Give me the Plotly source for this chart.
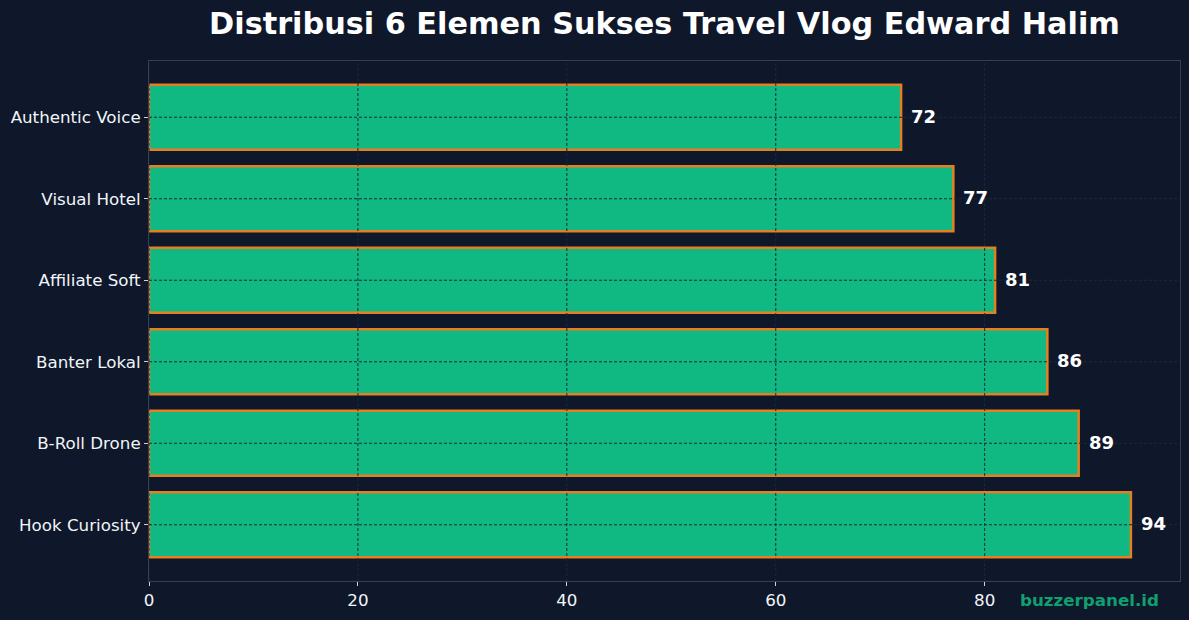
import plotly.graph_objects as go

categories = ["Hook Curiosity", "B-Roll Drone", "Banter Lokal", "Affiliate Soft", "Visual Hotel", "Authentic Voice"]
values = [94, 89, 86, 81, 77, 72]
x_ticks = [0, 20, 40, 60, 80]

BG = "#0f172a"
GRID = "#1e293b"
SPINE = "#334155"
TXT = "#f1f5f9"
FONT = "DejaVu Sans"

fig = go.Figure()
fig.add_trace(go.Bar(
    y=categories, x=values, orientation="h", width=0.8,
    marker=dict(color="#10b981", line=dict(color="#e67e22", width=2.5)),
    hoverinfo="skip",
))

shapes = []
for t in x_ticks:
    shapes.append(dict(type="line", xref="x", yref="paper", x0=t, x1=t, y0=0, y1=1,
                       line=dict(color=GRID, width=1, dash="3px,2px"), layer="above"))
for c in categories:
    shapes.append(dict(type="line", xref="paper", yref="y", x0=0, x1=1, y0=c, y1=c,
                       line=dict(color=GRID, width=1, dash="3px,2px"), layer="above"))

pl, pr, pt, pb = 149, 9, 61, 39
pw, ph = 1189 - pl - pr, 620 - pt - pb

annotations = []
for c, v in zip(categories, values):
    annotations.append(dict(x=v, y=c, xref="x", yref="y", text=str(v), showarrow=False,
                            xanchor="left", yanchor="middle", xshift=8, yshift=1,
                            font=dict(family=FONT, size=18, color="white", weight="bold")))
annotations.append(dict(x=(1161 - pl) / pw, y=1 - (600 - pt) / ph, xref="paper", yref="paper",
                        text="buzzerpanel.id", showarrow=False, xanchor="right", yanchor="middle",
                        font=dict(family=FONT, size=16.7, color="#10a070", weight="bold")))

fig.update_layout(
    width=1189, height=620,
    paper_bgcolor=BG, plot_bgcolor=BG,
    margin=dict(l=pl, r=pr, t=pt, b=pb),
    title=dict(text="Distribusi 6 Elemen Sukses Travel Vlog Edward Halim",
               x=0.5, xref="paper", xanchor="center", y=1 - 23 / 620, yref="container", yanchor="middle",
               font=dict(family=FONT, size=30.3, color="white", weight="bold")),
    showlegend=False,
    shapes=shapes,
    annotations=annotations,
    xaxis=dict(range=[0, 98.7], tickvals=x_ticks, showgrid=False, zeroline=False,
               showline=True, linecolor=SPINE, linewidth=1, mirror=True,
               ticks="outside", ticklen=4, tickcolor="#cbd5e1",
               tickfont=dict(family=FONT, size=16.7, color=TXT)),
    yaxis=dict(type="category", categoryorder="array", categoryarray=categories,
               range=[-0.69, 5.69], showgrid=False, zeroline=False,
               showline=True, linecolor=SPINE, linewidth=1, mirror=True,
               ticks="outside", ticklen=4, tickcolor="#cbd5e1",
               tickfont=dict(family=FONT, size=16.7, color=TXT)),
)

fig.write_html("out.html", config={"displayModeBar": False},
               post_script="document.body.style.margin='0';")
